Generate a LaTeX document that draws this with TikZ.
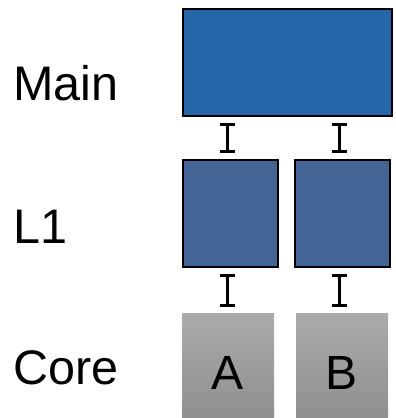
\documentclass[tikz,border=0pt]{standalone}
\usepackage{fontspec}
\setmainfont{Liberation Sans}
\usetikzlibrary{arrows.meta,positioning}
\definecolor{mainblue}{RGB}{37,102,168}
\definecolor{cacheblue}{RGB}{66,101,150}
\definecolor{coretop}{RGB}{171,171,171}
\definecolor{corebot}{RGB}{142,142,142}
\tikzset{
  levelname/.style={anchor=base west, inner sep=0pt, font=\fontsize{48.5}{58}\selectfont},
  mem/.style={rectangle, draw=black, line width=2pt, fill=mainblue, minimum width=209pt, minimum height=107pt},
  cache/.style={rectangle, draw=black, line width=2pt, fill=cacheblue, minimum width=95pt, minimum height=107pt},
  core/.style={rectangle, top color=coretop, bottom color=corebot, minimum width=92pt, minimum height=110pt, font=\fontsize{48}{58}\selectfont},
  link/.style={line width=2.6pt, {Bar[width=15pt]}-{Bar[width=15pt]}, shorten <=6pt, shorten >=6pt}
}

\begin{document}
\begin{tikzpicture}[x=1pt,y=-1pt]
\useasboundingbox (0,0) rectangle (396,418);

\node[levelname] (lbl-main) at (13,100) {Main};
\node[levelname] (lbl-l1) at (13,243) {L1};
\node[levelname] (lbl-core) at (13,384) {Core};

\node[mem] (mem) at (287.5,62.5) {};

\node[cache] (l1a) at (230.5,213.5) {};
\node[cache] (l1b) at (342.5,213.5) {};

\node[core, label={[yshift=-4.5pt, font=\fontsize{48}{58}\selectfont]center:A}] (cpua) at (228,368) {};
\node[core, label={[yshift=-4.5pt, font=\fontsize{48}{58}\selectfont]center:B}] (cpub) at (342,368) {};

\foreach \c in {l1a,l1b}{
  \draw[link] ([xshift=-3pt]\c.north |- mem.south) -- ([xshift=-3pt]\c.north);
  \draw[link] ([xshift=-3pt]\c.south) -- ([xshift=-3pt]\c.south |- cpua.north);
}

\end{tikzpicture}
\end{document}
